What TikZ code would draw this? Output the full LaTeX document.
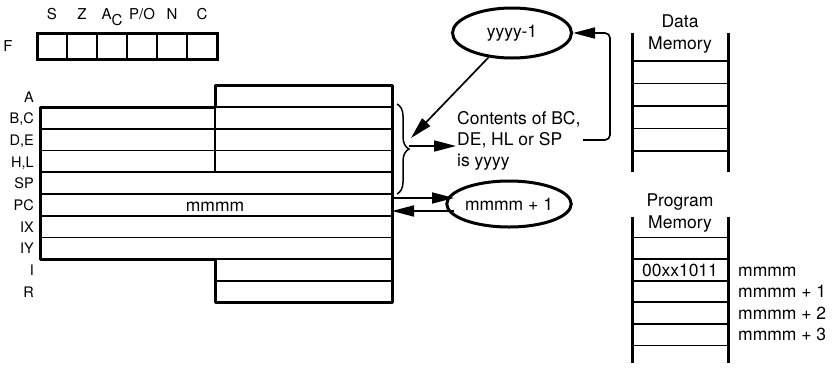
\documentclass[tikz,border=0pt]{standalone}
\usepackage{fontspec}
\setmainfont{TeX Gyre Heros}
\usetikzlibrary{arrows.meta,decorations.pathreplacing,shapes.geometric}
\begin{document}
\begin{tikzpicture}[x=1pt,y=-1pt,
  thickline/.style={line width=3pt},
  thinline/.style={line width=1.7pt},
  lbl/.style={font=\fontsize{14.5}{17}\selectfont, anchor=east, inner sep=0pt, text height=10.4pt, text depth=0pt},
  flg/.style={font=\fontsize{15}{18}\selectfont, inner sep=0pt, text height=10.8pt, text depth=0pt},
  txt/.style={font=\fontsize{17.5}{21}\selectfont, inner sep=0pt, text height=12.5pt, text depth=0pt},
  arr/.style={line width=1.7pt, -{Triangle[length=22pt,width=11pt]}},
  oval/.style={ellipse, draw, line width=3pt, inner sep=0pt, font=\fontsize{17.5}{21}\selectfont}]
\useasboundingbox (0,0) rectangle (834,370);

% ---- flag register
\node[flg] (fF) at (8,46) {F};
\draw[thickline] (37,33) rectangle (217,59);
\foreach \i in {1,...,5} \draw[line width=2.2pt] (37+30*\i,33) -- (37+30*\i,59);
\node[flg] (fS) at (52,14) {S};
\node[flg] (fZ) at (82,14) {Z};
\node[flg] (fAC) at (112,14) {A\raisebox{-6pt}{C}};
\node[flg] (fPO) at (142,14) {P/O};
\node[flg] (fN) at (172,14) {N};
\node[flg] (fC) at (202,14) {C};

% ---- register file
\draw[thinline] (215,107.2) -- (392,107.2);
\foreach \y in {128.9,150.6,172.3,194.0,215.7,237.4} \draw[thinline] (40,\y) -- (392,\y);
\draw[thinline] (215,259.1) -- (392,259.1);
\draw[thinline] (215,280.8) -- (392,280.8);
\draw[line width=2pt] (215,107.2) -- (215,172.3);
\draw[thickline, line join=round] (215,85.5) -- (392,85.5) -- (392,302.5) -- (215,302.5) -- (215,259.1) -- (40,259.1) -- (40,107.2) -- (215,107.2) -- cycle;

\node[lbl] (rA)  at (34,96.8)  {A};
\node[lbl] (rBC) at (34,118.5) {B,C};
\node[lbl] (rDE) at (34,140.2) {D,E};
\node[lbl] (rHL) at (34,161.9) {H,L};
\node[lbl] (rSP) at (34,183.6) {SP};
\node[lbl] (rPC) at (34,205.3) {PC};
\node[lbl] (rIX) at (34,227.0) {IX};
\node[lbl] (rIY) at (34,248.7) {IY};
\node[lbl] (rI)  at (34,270.4) {I};
\node[lbl] (rR)  at (34,292.1) {R};
\node[txt] (pcval) at (215,205) {mmmm};

% ---- brace
\draw[line width=1.5pt, decorate, decoration={brace, amplitude=12pt}] (397,104) -- (397,194);

% ---- ellipses and text
\node[oval, minimum width=119pt, minimum height=50pt] (yy) at (512,33) {yyyy-1};
\node[oval, minimum width=113pt, minimum height=46pt] (mm) at (509,204) {mmmm + 1};
\node[font=\fontsize{17.5}{21}\selectfont, inner sep=0pt, align=left, anchor=north west] (cont) at (457,111.5)
  {Contents of BC,\\DE, HL or SP\\is yyyy};

% ---- connectors
\coordinate (bt1) at (411,138);
\coordinate (bt2) at (409,146);
\coordinate (ct) at (456,146);
\coordinate (ret) at (583,140);
\draw[arr] (yy) -- (bt1);
\draw[arr] (bt2) -- (ct);
\draw[arr, rounded corners=5pt] (ret) -- (610,140) -- (610,33) -- (yy.east);

\coordinate (pcA) at (392,198);
\coordinate (mmA) at (454,198);
\coordinate (mmB) at (454,211);
\coordinate (pcB) at (392,211);
\draw[arr] (pcA) -- (mmA);
\draw[arr] (mmB) -- (pcB);

% ---- data memory
\node[txt] (dm1) at (680,21) {Data};
\node[txt] (dm2) at (680,43) {Memory};
\draw[thickline] (632,33) -- (632,172);
\draw[thickline] (728,33) -- (728,172);
\foreach \y in {61,83.5,106,128.5,151} \draw[thinline] (632,\y) -- (728,\y);

% ---- program memory
\node[txt] (pm1) at (680,200) {Program};
\node[txt] (pm2) at (680,222) {Memory};
\draw[thickline] (632,217) -- (632,363);
\draw[thickline] (728,217) -- (728,363);
\foreach \y in {237.5,259.1,280.7,302.3,323.9,345.5} \draw[thinline] (632,\y) -- (728,\y);
\node[txt] (op) at (680,270) {00xx1011};
\node[txt, anchor=west] (a0) at (738,270) {mmmm};
\node[txt, anchor=west] (a1) at (738,291.5) {mmmm + 1};
\node[txt, anchor=west] (a2) at (738,313.1) {mmmm + 2};
\node[txt, anchor=west] (a3) at (738,334.7) {mmmm + 3};
\end{tikzpicture}
\end{document}
